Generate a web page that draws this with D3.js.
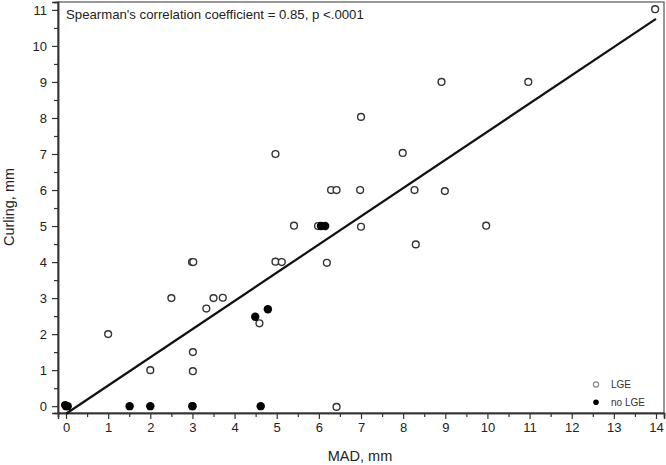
<!DOCTYPE html>
<html>
<head>
<meta charset="utf-8">
<script src="https://cdn.jsdelivr.net/npm/d3@7"></script>
<style>
  html, body { margin: 0; padding: 0; background: #fff; }
  svg { display: block; font-family: "Liberation Sans", Arial, sans-serif; }
</style>
</head>
<body>
<svg id="chart" width="666" height="465"></svg>
<script>
// ---- data ----
const lgeX = [1, 2, 2.5, 2.99, 3.02, 3.01, 3.01, 3.33, 3.5, 3.72, 4.59, 4.97, 5.12, 6.19, 4.97, 5.41, 5.98, 6.29, 6.42, 6.42, 7.0, 7.99, 6.98, 8.27, 8.99, 7.0, 9.97, 8.3, 8.91, 10.97, 13.98, 3.0];
const lgeY = [2, 1, 3, 4, 4, 1.5, 0.97, 2.71, 3, 3.01, 2.3, 4.01, 4.0, 3.98, 7, 5.01, 5, 6, 6, -0.02, 8.03, 7.03, 6, 6, 5.97, 4.98, 5.01, 4.49, 9, 9, 11.02, 0];
const noLgeX = [0, 0.04, -0.02, 1.51, 2.0, 3.0, 4.62, 4.49, 4.79, 6.05, 6.15];
const noLgeY = [0, 0, 0.03, 0, 0, 0, 0, 2.48, 2.69, 5, 5];
const regression = { intercept: -0.21, slope: 0.783, xFrom: 0, xTo: 14 };
const xTicks = [0, 1, 2, 3, 4, 5, 6, 7, 8, 9, 10, 11, 12, 13, 14];
const yTicks = [0, 1, 2, 3, 4, 5, 6, 7, 8, 9, 10, 11];
const annotation = "Spearman's correlation coefficient = 0.85, p <.0001";
const xTitle = "MAD, mm";
const yTitle = "Curling, mm";
const legendItems = ["LGE", "no LGE"];

// ---- layout ----
const svg = d3.select("#chart");
const pLeft = 58, pRight = 664, pTop = 2, pBottom = 413;
const x = d3.scaleLinear().domain([-0.19, 14.19]).range([pLeft, pRight]);
const y = d3.scaleLinear().domain([-0.19, 11.22]).range([pBottom, pTop]);

// frame
svg.append("rect")
  .attr("x", pLeft).attr("y", pTop)
  .attr("width", pRight - pLeft).attr("height", pBottom - pTop)
  .attr("fill", "none").attr("stroke", "#555").attr("stroke-width", 1.2);

const halves = d3.range(0.5, 14, 1);
const yHalves = d3.range(0.5, 11, 1);

// x axis
const gx = svg.append("g").attr("transform", `translate(0,${pBottom})`);
gx.call(d3.axisBottom(x).tickValues(xTicks).tickSize(6).tickPadding(4).tickFormat(d3.format("d")));
const gxm = svg.append("g").attr("transform", `translate(0,${pBottom})`);
gxm.call(d3.axisBottom(x).tickValues(halves).tickSize(4).tickFormat(""));

// y axis
const gy = svg.append("g").attr("transform", `translate(${pLeft},0)`);
gy.call(d3.axisLeft(y).tickValues(yTicks).tickSize(6).tickPadding(5).tickFormat(d3.format("d")));
const gym = svg.append("g").attr("transform", `translate(${pLeft},0)`);
gym.call(d3.axisLeft(y).tickValues(yHalves).tickSize(4).tickFormat(""));

[gx, gxm, gy, gym].forEach(g => {
  g.select(".domain").attr("stroke", "#333").attr("stroke-width", 1.5);
  g.selectAll(".tick line").attr("stroke", "#333").attr("stroke-width", 1.2);
  g.selectAll(".tick text").attr("fill", "#222").attr("font-size", 13)
    .attr("font-family", "'Liberation Sans', Arial, sans-serif");
});

// regression line
svg.append("line")
  .attr("x1", x(regression.xFrom))
  .attr("y1", y(regression.intercept + regression.slope * regression.xFrom))
  .attr("x2", x(regression.xTo))
  .attr("y2", y(regression.intercept + regression.slope * regression.xTo))
  .attr("stroke", "#111").attr("stroke-width", 2.2);

// points
const lge = lgeX.map((v, i) => ({ x: v, y: lgeY[i] }));
const noLge = noLgeX.map((v, i) => ({ x: v, y: noLgeY[i] }));

svg.append("g").selectAll("circle").data(lge).join("circle")
  .attr("cx", d => x(d.x)).attr("cy", d => y(d.y)).attr("r", 3.4)
  .attr("fill", "#fff").attr("stroke", "#333").attr("stroke-width", 1.4);

svg.append("g").selectAll("circle").data(noLge).join("circle")
  .attr("cx", d => x(d.x)).attr("cy", d => y(d.y)).attr("r", 4.2)
  .attr("fill", "#000");

// annotation
svg.append("text").attr("x", 66).attr("y", 19)
  .attr("font-size", 13.2).attr("fill", "#222").text(annotation);

// axis titles
svg.append("text").attr("x", 360).attr("y", 461)
  .attr("text-anchor", "middle").attr("font-size", 14.5).attr("fill", "#222").text(xTitle);
svg.append("text").attr("transform", `translate(14,207) rotate(-90)`)
  .attr("text-anchor", "middle").attr("font-size", 14.5).attr("fill", "#222").text(yTitle);

// legend
const lg = svg.append("g");
lg.append("circle").attr("cx", 596).attr("cy", 384.5).attr("r", 2.6)
  .attr("fill", "#fff").attr("stroke", "#888").attr("stroke-width", 1.2);
lg.append("circle").attr("cx", 596).attr("cy", 402.3).attr("r", 2.8).attr("fill", "#000");
lg.append("text").attr("x", 611).attr("y", 388).attr("font-size", 10).attr("fill", "#333").text(legendItems[0]);
lg.append("text").attr("x", 611).attr("y", 405.5).attr("font-size", 10).attr("fill", "#333").text(legendItems[1]);
</script>
</body>
</html>
